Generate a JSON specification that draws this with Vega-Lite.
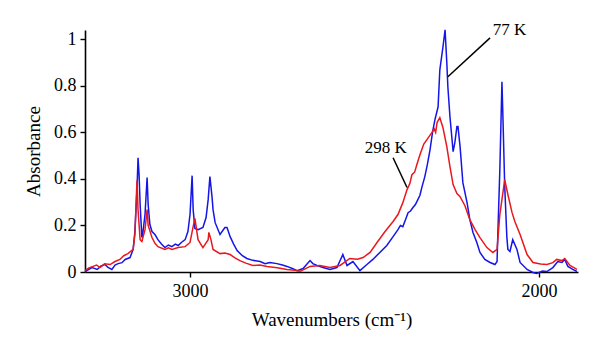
{
  "$schema": "https://vega.github.io/schema/vega-lite/v6.json",
  "width": 493,
  "height": 242,
  "autosize": "none",
  "padding": {"left": 85, "top": 30, "right": 22, "bottom": 84},
  "background": "white",
  "config": {
    "view": {"stroke": null},
    "font": "Liberation Serif",
    "axis": {
      "grid": false,
      "domainColor": "black",
      "domainWidth": 1.6,
      "tickColor": "black",
      "tickWidth": 1.4,
      "tickSize": 5,
      "labelColor": "black",
      "titleColor": "black",
      "labelFont": "Liberation Serif",
      "titleFont": "Liberation Serif",
      "labelFontSize": 18,
      "titleFontSize": 19,
      "titleFontWeight": "normal"
    }
  },
  "datasets": {
    "spectra": [
      {"s": "77 K", "wn": 3301, "abs": 0.002},
      {"s": "77 K", "wn": 3281, "abs": 0.019},
      {"s": "77 K", "wn": 3266, "abs": 0.011},
      {"s": "77 K", "wn": 3255, "abs": 0.026},
      {"s": "77 K", "wn": 3244, "abs": 0.032},
      {"s": "77 K", "wn": 3235, "abs": 0.02},
      {"s": "77 K", "wn": 3224, "abs": 0.011},
      {"s": "77 K", "wn": 3215, "abs": 0.03},
      {"s": "77 K", "wn": 3206, "abs": 0.036},
      {"s": "77 K", "wn": 3195, "abs": 0.04},
      {"s": "77 K", "wn": 3186, "abs": 0.054},
      {"s": "77 K", "wn": 3172, "abs": 0.062},
      {"s": "77 K", "wn": 3163, "abs": 0.097},
      {"s": "77 K", "wn": 3158, "abs": 0.174},
      {"s": "77 K", "wn": 3152, "abs": 0.354},
      {"s": "77 K", "wn": 3149, "abs": 0.491},
      {"s": "77 K", "wn": 3146, "abs": 0.418},
      {"s": "77 K", "wn": 3143, "abs": 0.29},
      {"s": "77 K", "wn": 3138, "abs": 0.148},
      {"s": "77 K", "wn": 3135, "abs": 0.17},
      {"s": "77 K", "wn": 3129, "abs": 0.247},
      {"s": "77 K", "wn": 3123, "abs": 0.406},
      {"s": "77 K", "wn": 3120, "abs": 0.29},
      {"s": "77 K", "wn": 3115, "abs": 0.204},
      {"s": "77 K", "wn": 3109, "abs": 0.174},
      {"s": "77 K", "wn": 3100, "abs": 0.16},
      {"s": "77 K", "wn": 3092, "abs": 0.139},
      {"s": "77 K", "wn": 3082, "abs": 0.12},
      {"s": "77 K", "wn": 3072, "abs": 0.105},
      {"s": "77 K", "wn": 3062, "abs": 0.116},
      {"s": "77 K", "wn": 3052, "abs": 0.109},
      {"s": "77 K", "wn": 3042, "abs": 0.12},
      {"s": "77 K", "wn": 3034, "abs": 0.114},
      {"s": "77 K", "wn": 3024, "abs": 0.128},
      {"s": "77 K", "wn": 3014, "abs": 0.139},
      {"s": "77 K", "wn": 3006, "abs": 0.174},
      {"s": "77 K", "wn": 3000, "abs": 0.247},
      {"s": "77 K", "wn": 2994, "abs": 0.414},
      {"s": "77 K", "wn": 2991, "abs": 0.268},
      {"s": "77 K", "wn": 2986, "abs": 0.187},
      {"s": "77 K", "wn": 2977, "abs": 0.182},
      {"s": "77 K", "wn": 2963, "abs": 0.191},
      {"s": "77 K", "wn": 2954, "abs": 0.234},
      {"s": "77 K", "wn": 2948, "abs": 0.311},
      {"s": "77 K", "wn": 2943, "abs": 0.41},
      {"s": "77 K", "wn": 2937, "abs": 0.324},
      {"s": "77 K", "wn": 2934, "abs": 0.268},
      {"s": "77 K", "wn": 2928, "abs": 0.212},
      {"s": "77 K", "wn": 2914, "abs": 0.161},
      {"s": "77 K", "wn": 2900, "abs": 0.191},
      {"s": "77 K", "wn": 2894, "abs": 0.191},
      {"s": "77 K", "wn": 2885, "abs": 0.152},
      {"s": "77 K", "wn": 2875, "abs": 0.12},
      {"s": "77 K", "wn": 2865, "abs": 0.092},
      {"s": "77 K", "wn": 2850, "abs": 0.07},
      {"s": "77 K", "wn": 2837, "abs": 0.058},
      {"s": "77 K", "wn": 2820, "abs": 0.05},
      {"s": "77 K", "wn": 2799, "abs": 0.045},
      {"s": "77 K", "wn": 2785, "abs": 0.036},
      {"s": "77 K", "wn": 2771, "abs": 0.041},
      {"s": "77 K", "wn": 2751, "abs": 0.036},
      {"s": "77 K", "wn": 2735, "abs": 0.03},
      {"s": "77 K", "wn": 2722, "abs": 0.024},
      {"s": "77 K", "wn": 2705, "abs": 0.014},
      {"s": "77 K", "wn": 2693, "abs": 0.006},
      {"s": "77 K", "wn": 2676, "abs": 0.015},
      {"s": "77 K", "wn": 2656, "abs": 0.049},
      {"s": "77 K", "wn": 2648, "abs": 0.036},
      {"s": "77 K", "wn": 2636, "abs": 0.028},
      {"s": "77 K", "wn": 2619, "abs": 0.019},
      {"s": "77 K", "wn": 2599, "abs": 0.011},
      {"s": "77 K", "wn": 2579, "abs": 0.019},
      {"s": "77 K", "wn": 2562, "abs": 0.075},
      {"s": "77 K", "wn": 2550, "abs": 0.028},
      {"s": "77 K", "wn": 2533, "abs": 0.045},
      {"s": "77 K", "wn": 2513, "abs": 0.006},
      {"s": "77 K", "wn": 2493, "abs": 0.032},
      {"s": "77 K", "wn": 2476, "abs": 0.054},
      {"s": "77 K", "wn": 2456, "abs": 0.084},
      {"s": "77 K", "wn": 2436, "abs": 0.114},
      {"s": "77 K", "wn": 2418, "abs": 0.152},
      {"s": "77 K", "wn": 2404, "abs": 0.182},
      {"s": "77 K", "wn": 2397, "abs": 0.2},
      {"s": "77 K", "wn": 2390, "abs": 0.195},
      {"s": "77 K", "wn": 2383, "abs": 0.222},
      {"s": "77 K", "wn": 2375, "abs": 0.255},
      {"s": "77 K", "wn": 2368, "abs": 0.262},
      {"s": "77 K", "wn": 2361, "abs": 0.277},
      {"s": "77 K", "wn": 2354, "abs": 0.29},
      {"s": "77 K", "wn": 2347, "abs": 0.311},
      {"s": "77 K", "wn": 2341, "abs": 0.33},
      {"s": "77 K", "wn": 2335, "abs": 0.367},
      {"s": "77 K", "wn": 2327, "abs": 0.41},
      {"s": "77 K", "wn": 2320, "abs": 0.46},
      {"s": "77 K", "wn": 2312, "abs": 0.526},
      {"s": "77 K", "wn": 2305, "abs": 0.6},
      {"s": "77 K", "wn": 2298, "abs": 0.655},
      {"s": "77 K", "wn": 2289, "abs": 0.71},
      {"s": "77 K", "wn": 2284, "abs": 0.869},
      {"s": "77 K", "wn": 2275, "abs": 0.968},
      {"s": "77 K", "wn": 2269, "abs": 1.041},
      {"s": "77 K", "wn": 2264, "abs": 0.899},
      {"s": "77 K", "wn": 2261, "abs": 0.796},
      {"s": "77 K", "wn": 2255, "abs": 0.667},
      {"s": "77 K", "wn": 2249, "abs": 0.569},
      {"s": "77 K", "wn": 2246, "abs": 0.517},
      {"s": "77 K", "wn": 2241, "abs": 0.556},
      {"s": "77 K", "wn": 2235, "abs": 0.625},
      {"s": "77 K", "wn": 2232, "abs": 0.625},
      {"s": "77 K", "wn": 2226, "abs": 0.539},
      {"s": "77 K", "wn": 2218, "abs": 0.384},
      {"s": "77 K", "wn": 2206, "abs": 0.298},
      {"s": "77 K", "wn": 2198, "abs": 0.225},
      {"s": "77 K", "wn": 2189, "abs": 0.17},
      {"s": "77 K", "wn": 2178, "abs": 0.127},
      {"s": "77 K", "wn": 2169, "abs": 0.084},
      {"s": "77 K", "wn": 2155, "abs": 0.054},
      {"s": "77 K", "wn": 2140, "abs": 0.041},
      {"s": "77 K", "wn": 2126, "abs": 0.032},
      {"s": "77 K", "wn": 2120, "abs": 0.045},
      {"s": "77 K", "wn": 2118, "abs": 0.152},
      {"s": "77 K", "wn": 2112, "abs": 0.44},
      {"s": "77 K", "wn": 2106, "abs": 0.818},
      {"s": "77 K", "wn": 2103, "abs": 0.655},
      {"s": "77 K", "wn": 2098, "abs": 0.367},
      {"s": "77 K", "wn": 2092, "abs": 0.152},
      {"s": "77 K", "wn": 2089, "abs": 0.097},
      {"s": "77 K", "wn": 2083, "abs": 0.088},
      {"s": "77 K", "wn": 2075, "abs": 0.139},
      {"s": "77 K", "wn": 2063, "abs": 0.097},
      {"s": "77 K", "wn": 2054, "abs": 0.041},
      {"s": "77 K", "wn": 2034, "abs": 0.011},
      {"s": "77 K", "wn": 2017, "abs": -0.002},
      {"s": "77 K", "wn": 2006, "abs": -0.006},
      {"s": "77 K", "wn": 1990, "abs": 0.004},
      {"s": "77 K", "wn": 1977, "abs": 0.002},
      {"s": "77 K", "wn": 1960, "abs": 0.019},
      {"s": "77 K", "wn": 1946, "abs": 0.045},
      {"s": "77 K", "wn": 1934, "abs": 0.041},
      {"s": "77 K", "wn": 1926, "abs": 0.054},
      {"s": "77 K", "wn": 1917, "abs": 0.024},
      {"s": "77 K", "wn": 1903, "abs": 0.011},
      {"s": "77 K", "wn": 1891, "abs": 0.002},
      {"s": "298 K", "wn": 3301, "abs": 0.006},
      {"s": "298 K", "wn": 3290, "abs": 0.018},
      {"s": "298 K", "wn": 3278, "abs": 0.024},
      {"s": "298 K", "wn": 3268, "abs": 0.03},
      {"s": "298 K", "wn": 3258, "abs": 0.019},
      {"s": "298 K", "wn": 3245, "abs": 0.035},
      {"s": "298 K", "wn": 3229, "abs": 0.032},
      {"s": "298 K", "wn": 3215, "abs": 0.045},
      {"s": "298 K", "wn": 3201, "abs": 0.054},
      {"s": "298 K", "wn": 3190, "abs": 0.07},
      {"s": "298 K", "wn": 3178, "abs": 0.079},
      {"s": "298 K", "wn": 3163, "abs": 0.097},
      {"s": "298 K", "wn": 3158, "abs": 0.161},
      {"s": "298 K", "wn": 3152, "abs": 0.393},
      {"s": "298 K", "wn": 3149, "abs": 0.268},
      {"s": "298 K", "wn": 3143, "abs": 0.139},
      {"s": "298 K", "wn": 3138, "abs": 0.131},
      {"s": "298 K", "wn": 3129, "abs": 0.182},
      {"s": "298 K", "wn": 3123, "abs": 0.268},
      {"s": "298 K", "wn": 3120, "abs": 0.2},
      {"s": "298 K", "wn": 3109, "abs": 0.148},
      {"s": "298 K", "wn": 3100, "abs": 0.122},
      {"s": "298 K", "wn": 3092, "abs": 0.109},
      {"s": "298 K", "wn": 3072, "abs": 0.097},
      {"s": "298 K", "wn": 3062, "abs": 0.104},
      {"s": "298 K", "wn": 3052, "abs": 0.097},
      {"s": "298 K", "wn": 3034, "abs": 0.105},
      {"s": "298 K", "wn": 3014, "abs": 0.109},
      {"s": "298 K", "wn": 3000, "abs": 0.127},
      {"s": "298 K", "wn": 2991, "abs": 0.195},
      {"s": "298 K", "wn": 2986, "abs": 0.23},
      {"s": "298 K", "wn": 2977, "abs": 0.139},
      {"s": "298 K", "wn": 2963, "abs": 0.105},
      {"s": "298 K", "wn": 2948, "abs": 0.139},
      {"s": "298 K", "wn": 2946, "abs": 0.17},
      {"s": "298 K", "wn": 2940, "abs": 0.139},
      {"s": "298 K", "wn": 2934, "abs": 0.097},
      {"s": "298 K", "wn": 2914, "abs": 0.079},
      {"s": "298 K", "wn": 2900, "abs": 0.082},
      {"s": "298 K", "wn": 2885, "abs": 0.075},
      {"s": "298 K", "wn": 2870, "abs": 0.06},
      {"s": "298 K", "wn": 2857, "abs": 0.049},
      {"s": "298 K", "wn": 2840, "abs": 0.038},
      {"s": "298 K", "wn": 2820, "abs": 0.028},
      {"s": "298 K", "wn": 2800, "abs": 0.03},
      {"s": "298 K", "wn": 2779, "abs": 0.024},
      {"s": "298 K", "wn": 2750, "abs": 0.018},
      {"s": "298 K", "wn": 2722, "abs": 0.011},
      {"s": "298 K", "wn": 2700, "abs": 0.008},
      {"s": "298 K", "wn": 2685, "abs": 0.002},
      {"s": "298 K", "wn": 2656, "abs": 0.024},
      {"s": "298 K", "wn": 2628, "abs": 0.028},
      {"s": "298 K", "wn": 2599, "abs": 0.019},
      {"s": "298 K", "wn": 2570, "abs": 0.028},
      {"s": "298 K", "wn": 2542, "abs": 0.058},
      {"s": "298 K", "wn": 2520, "abs": 0.055},
      {"s": "298 K", "wn": 2504, "abs": 0.062},
      {"s": "298 K", "wn": 2484, "abs": 0.084},
      {"s": "298 K", "wn": 2464, "abs": 0.127},
      {"s": "298 K", "wn": 2441, "abs": 0.174},
      {"s": "298 K", "wn": 2418, "abs": 0.217},
      {"s": "298 K", "wn": 2404, "abs": 0.247},
      {"s": "298 K", "wn": 2390, "abs": 0.298},
      {"s": "298 K", "wn": 2378, "abs": 0.354},
      {"s": "298 K", "wn": 2370, "abs": 0.38},
      {"s": "298 K", "wn": 2364, "abs": 0.418},
      {"s": "298 K", "wn": 2356, "abs": 0.43},
      {"s": "298 K", "wn": 2350, "abs": 0.461},
      {"s": "298 K", "wn": 2341, "abs": 0.504},
      {"s": "298 K", "wn": 2330, "abs": 0.55},
      {"s": "298 K", "wn": 2321, "abs": 0.569},
      {"s": "298 K", "wn": 2307, "abs": 0.599},
      {"s": "298 K", "wn": 2300, "abs": 0.615},
      {"s": "298 K", "wn": 2296, "abs": 0.6},
      {"s": "298 K", "wn": 2292, "abs": 0.642},
      {"s": "298 K", "wn": 2284, "abs": 0.663},
      {"s": "298 K", "wn": 2275, "abs": 0.62},
      {"s": "298 K", "wn": 2264, "abs": 0.539},
      {"s": "298 K", "wn": 2255, "abs": 0.453},
      {"s": "298 K", "wn": 2246, "abs": 0.376},
      {"s": "298 K", "wn": 2235, "abs": 0.337},
      {"s": "298 K", "wn": 2226, "abs": 0.324},
      {"s": "298 K", "wn": 2212, "abs": 0.285},
      {"s": "298 K", "wn": 2198, "abs": 0.225},
      {"s": "298 K", "wn": 2183, "abs": 0.182},
      {"s": "298 K", "wn": 2169, "abs": 0.148},
      {"s": "298 K", "wn": 2149, "abs": 0.105},
      {"s": "298 K", "wn": 2132, "abs": 0.084},
      {"s": "298 K", "wn": 2120, "abs": 0.097},
      {"s": "298 K", "wn": 2112, "abs": 0.247},
      {"s": "298 K", "wn": 2106, "abs": 0.311},
      {"s": "298 K", "wn": 2098, "abs": 0.397},
      {"s": "298 K", "wn": 2089, "abs": 0.333},
      {"s": "298 K", "wn": 2077, "abs": 0.255},
      {"s": "298 K", "wn": 2069, "abs": 0.217},
      {"s": "298 K", "wn": 2054, "abs": 0.161},
      {"s": "298 K", "wn": 2034, "abs": 0.075},
      {"s": "298 K", "wn": 2017, "abs": 0.041},
      {"s": "298 K", "wn": 1995, "abs": 0.034},
      {"s": "298 K", "wn": 1977, "abs": 0.032},
      {"s": "298 K", "wn": 1960, "abs": 0.04},
      {"s": "298 K", "wn": 1949, "abs": 0.054},
      {"s": "298 K", "wn": 1934, "abs": 0.049},
      {"s": "298 K", "wn": 1926, "abs": 0.058},
      {"s": "298 K", "wn": 1911, "abs": 0.028},
      {"s": "298 K", "wn": 1891, "abs": 0.011}
    ],
    "labels": [
      {"label": "77 K", "wn": 2132, "abs": 1.039},
      {"label": "298 K", "wn": 2499, "abs": 0.532}
    ],
    "leaders": [
      {"wn": 2261, "abs": 0.839, "wn2": 2140, "abs2": 1.006},
      {"wn": 2418, "abs": 0.491, "wn2": 2378, "abs2": 0.363}
    ]
  },
  "encoding": {
    "x": {
      "field": "wn",
      "type": "quantitative",
      "scale": {"domain": [1888, 3301], "reverse": true, "nice": false, "zero": false},
      "axis": {"values": [3000, 2000], "format": "d", "title": "Wavenumbers (cm⁻¹)", "labelPadding": 5, "titlePadding": 10}
    },
    "y": {
      "field": "abs",
      "type": "quantitative",
      "scale": {"domain": [0, 1.04], "nice": false, "zero": false},
      "axis": {"values": [0, 0.2, 0.4, 0.6, 0.8, 1], "format": "~g", "title": "Absorbance", "labelPadding": 4, "titlePadding": 10}
    }
  },
  "layer": [
    {
      "data": {"name": "spectra"},
      "transform": [{"filter": "datum.s === '77 K'"}],
      "mark": {"type": "line", "stroke": "#1515e8", "strokeWidth": 1.5}
    },
    {
      "data": {"name": "spectra"},
      "transform": [{"filter": "datum.s === '298 K'"}],
      "mark": {"type": "line", "stroke": "#e8191e", "strokeWidth": 1.5}
    },
    {
      "data": {"name": "leaders"},
      "mark": {"type": "rule", "stroke": "black", "strokeWidth": 1.5},
      "encoding": {"x2": {"field": "wn2"}, "y2": {"field": "abs2"}}
    },
    {
      "data": {"name": "labels"},
      "mark": {"type": "text", "align": "left", "baseline": "middle", "font": "Liberation Serif", "fontSize": 17, "color": "black"},
      "encoding": {"text": {"field": "label"}}
    }
  ]
}
